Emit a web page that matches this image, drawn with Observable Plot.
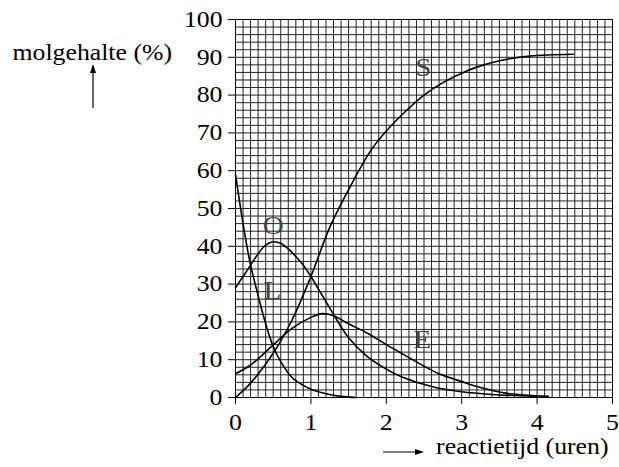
<!DOCTYPE html>
<html><head><meta charset="utf-8">
<script src="https://cdn.jsdelivr.net/npm/d3@7"></script>
<script src="https://cdn.jsdelivr.net/npm/@observablehq/plot@0.6"></script>
<style>body{margin:0;background:#fff} svg{display:block}</style>
</head><body><div id="chart"></div>
<script>
// Series data (reaction time in hours, mole fraction in %)
const timeS = [0, 0.2, 0.5, 0.75, 1.0, 1.25, 1.5, 1.8, 2.0, 2.25, 2.5, 2.75, 3.0, 3.2, 3.5, 3.9, 4.48];
const molS  = [0, 3.8, 11.7, 20.5, 32, 45, 55, 65.5, 70.5, 75.6, 80, 83.3, 85.8, 87.4, 89.1, 90.3, 90.8];
const timeO = [0, 0.1, 0.2, 0.3, 0.4, 0.5, 0.6, 0.7, 0.8, 0.9, 1.0, 1.15, 1.3, 1.5, 1.75, 2.0, 2.2, 2.6, 3.0, 3.4, 4.0];
const molO  = [29, 32, 35, 38, 40.3, 41.2, 40.8, 39.3, 37.3, 35, 32, 27, 22, 15.8, 10.8, 7.5, 5.5, 2.9, 1.5, 0.8, 0.3];
const timeL = [0, 0.1, 0.2, 0.3, 0.4, 0.5, 0.6, 0.75, 0.9, 1.0, 1.2, 1.4, 1.6];
const molL  = [59, 46, 35, 27, 19.5, 13.5, 9.5, 5.3, 3.2, 2.2, 1.0, 0.3, 0];
const timeE = [0, 0.2, 0.5, 0.75, 1.0, 1.15, 1.3, 1.5, 1.75, 2.0, 2.2, 2.5, 2.7, 3.0, 3.2, 3.6, 4.15];
const molE  = [6.3, 8.6, 13.9, 18.3, 21.2, 22.2, 21.6, 19.5, 17, 14, 11.7, 8.3, 6.3, 4.2, 2.9, 1.1, 0.3];

const labelNames = ["S", "O", "L", "E"];
const labelX = [2.49, 0.5, 0.49, 2.48];
const labelY = [87.2, 45.4, 28.3, 15.2];

const xTicks = [0, 1, 2, 3, 4, 5];
const yTicks = [0, 10, 20, 30, 40, 50, 60, 70, 80, 90, 100];
const gridX = d3.range(0, 51).map(d => d / 10);
const gridY = d3.range(0, 101, 2);

const yTitle = "molgehalte (%)";
const xTitle = "reactietijd (uren)";

const toRows = (t, v, s) => t.map((d, i) => ({t: d, v: v[i], s}));
const rows = [
  ...toRows(timeS, molS, "S"),
  ...toRows(timeO, molO, "O"),
  ...toRows(timeL, molL, "L"),
  ...toRows(timeE, molE, "E")
];

const svg = Plot.plot({
  width: 619, height: 467,
  marginLeft: 235, marginRight: 7, marginTop: 19, marginBottom: 70,
  style: {fontFamily: "'Liberation Serif', 'Times New Roman', serif", fontSize: "23px", background: "#fff", color: "#000"},
  x: {domain: [0, 5], ticks: xTicks, tickFormat: d => String(d), tickSize: 7, tickPadding: 9, label: null},
  y: {domain: [0, 100], ticks: yTicks, tickFormat: d => String(d), tickSize: 7, tickPadding: 6, label: null},
  marks: [
    Plot.ruleX(gridX, {stroke: "#222", strokeWidth: 1}),
    Plot.ruleY(gridY, {stroke: "#222", strokeWidth: 1}),
    Plot.frame({stroke: "#000"}),
    Plot.line(rows, {x: "t", y: "v", z: "s", curve: "catmull-rom", stroke: "#000", strokeWidth: 1.6}),
    Plot.text(labelNames, {x: (d, i) => labelX[i], y: (d, i) => labelY[i], text: d => d, fontSize: 26, fill: "#444", ariaLabel: "series-labels"}),
    Plot.text([yTitle], {frameAnchor: "top-left", dx: -223, dy: 24, textAnchor: "start", text: d => d, ariaLabel: "title"}),
    Plot.text([xTitle], {frameAnchor: "bottom-right", dx: -4, dy: 56, textAnchor: "end", text: d => d, ariaLabel: "title"})
  ]
});

document.getElementById("chart").appendChild(svg);

// Widen the Times-like axis text slightly to match the reference's proportions
svg.querySelectorAll("text").forEach(t => {
  if (t.closest('[aria-label="series-labels"]')) return;
  const w = t.getComputedTextLength();
  if (w > 0) {
    t.setAttribute("textLength", (w * 1.12).toFixed(1));
    t.setAttribute("lengthAdjust", "spacingAndGlyphs");
  }
});

// Arrows next to the axis titles
const g = d3.select(svg).append("g").attr("fill", "#000").attr("stroke", "#000");
g.append("line").attr("x1", 93).attr("x2", 93).attr("y1", 108).attr("y2", 70).attr("stroke-width", 1.2);
g.append("path").attr("d", "M93,64 L96,73 L90,73 Z").attr("stroke", "none");
g.append("line").attr("x1", 383).attr("x2", 418).attr("y1", 452).attr("y2", 452).attr("stroke-width", 1.2);
g.append("path").attr("d", "M424,452 L415,449 L415,455 Z").attr("stroke", "none");
</script>
</body></html>
